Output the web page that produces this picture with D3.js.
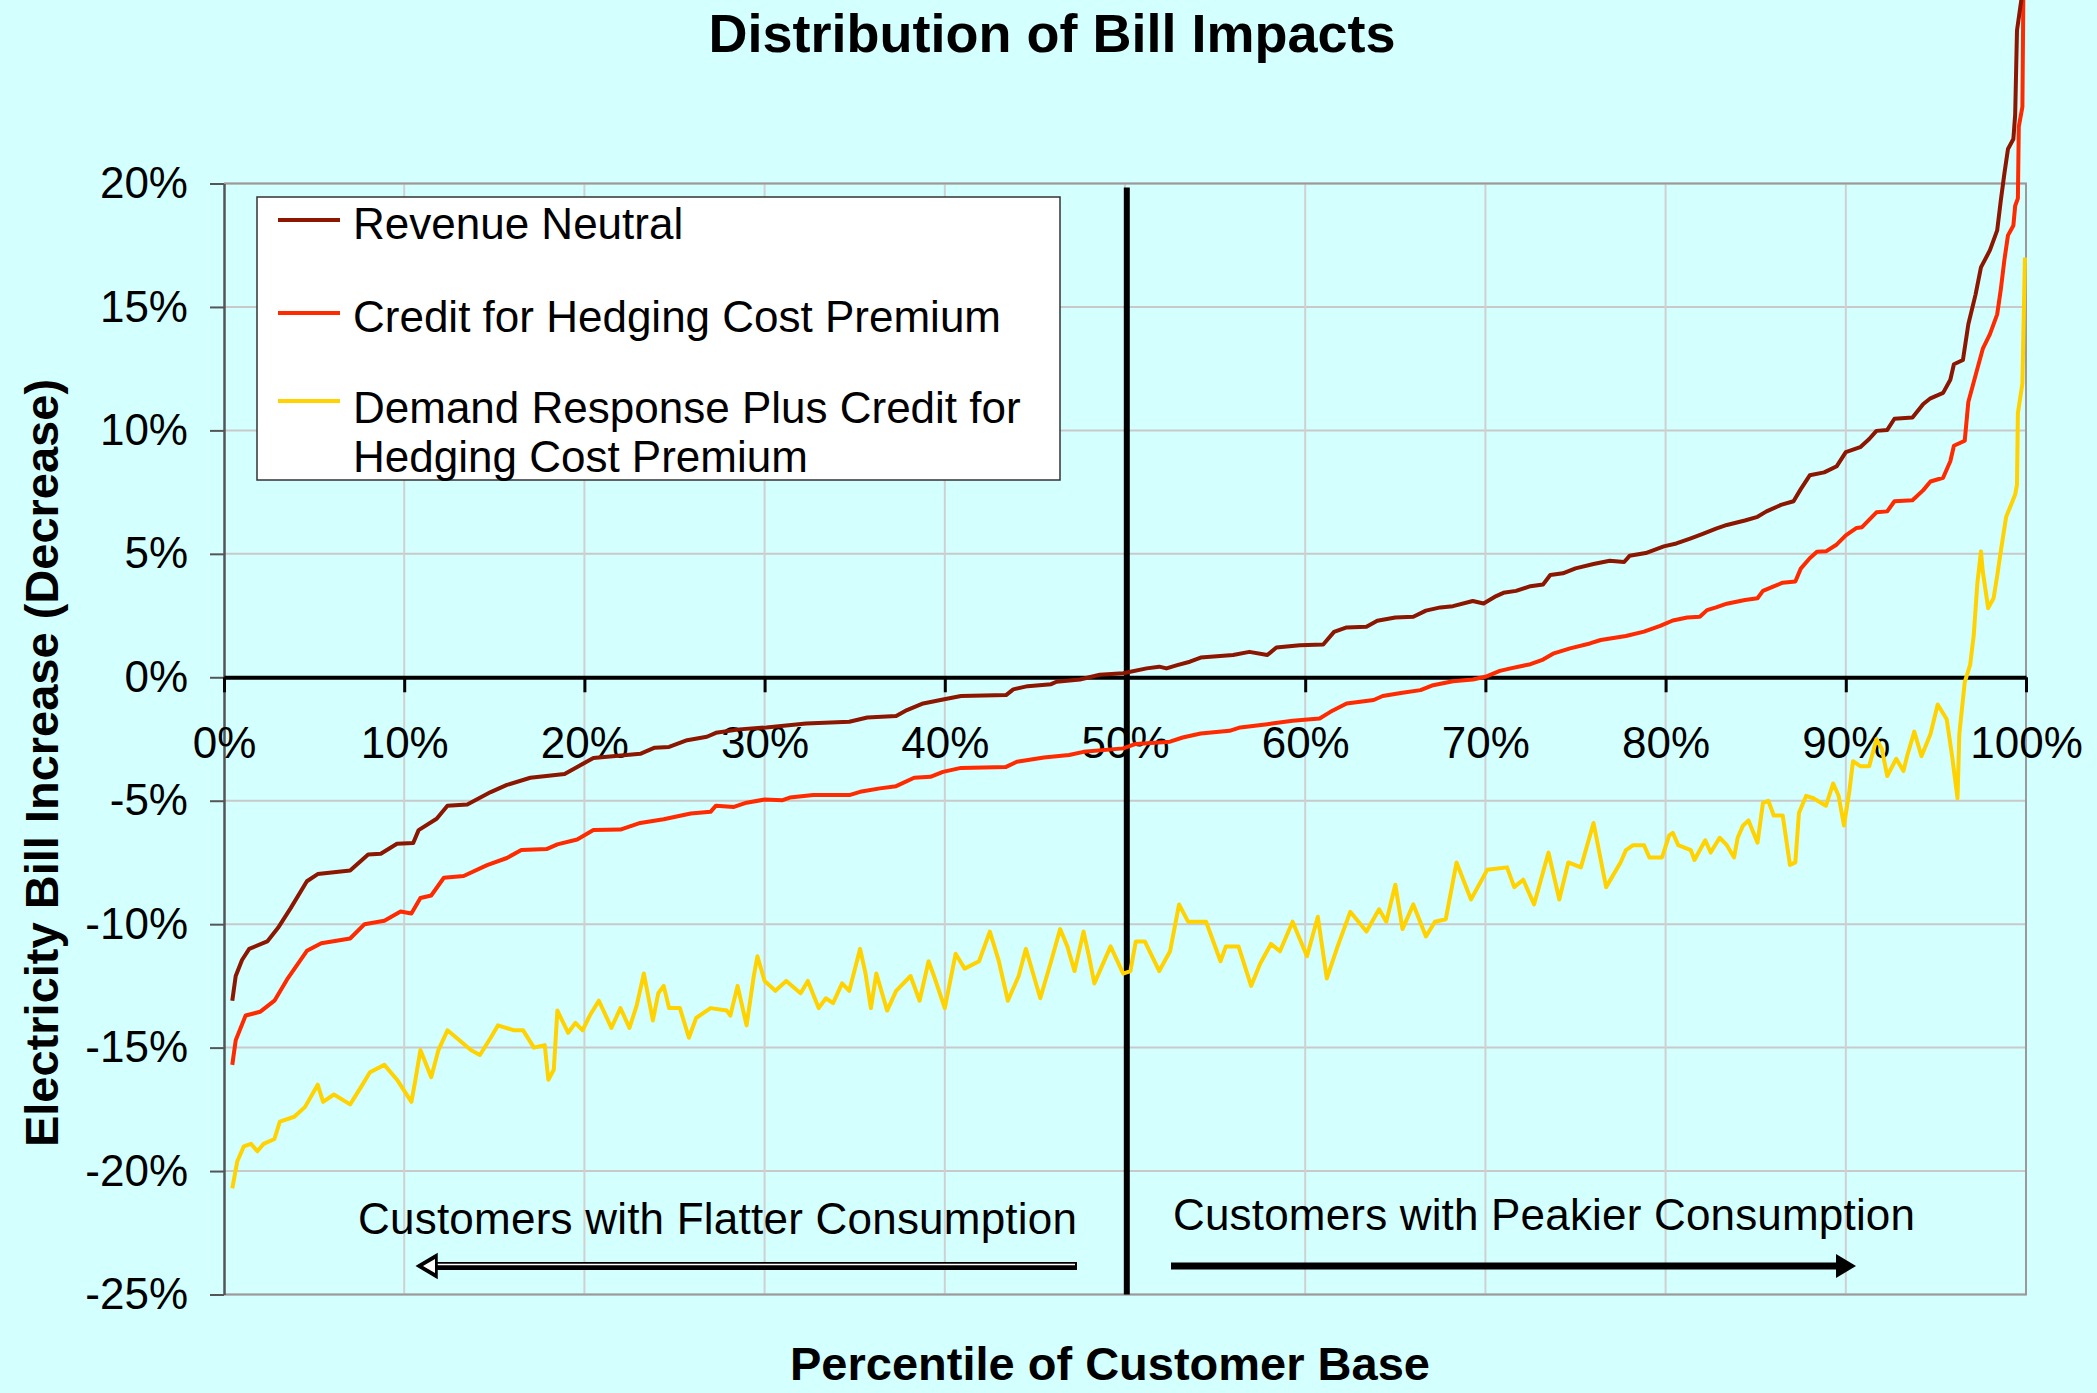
<!DOCTYPE html>
<html>
<head>
<meta charset="utf-8">
<title>Distribution of Bill Impacts</title>
<script src="https://cdnjs.cloudflare.com/ajax/libs/d3/7.8.5/d3.min.js"></script>
<style>
  body { margin: 0; background: #d4ffff; }
  svg { display: block; font-family: "Liberation Sans", Arial, sans-serif; }
</style>
</head>
<body>
<div id="chart"></div>
<script>
// ---- data (percentile of customer base, bill change in %) ----
var xTicks = [0, 10, 20, 30, 40, 50, 60, 70, 80, 90, 100];
var yTicks = [-25, -20, -15, -10, -5, 0, 5, 10, 15, 20];

var seriesNames = ["Revenue Neutral", "Credit for Hedging Cost Premium", "Demand Response Plus Credit for Hedging Cost Premium"];
var seriesColors = ["#8c1600", "#ff2a00", "#ffd200"];

var revenueNeutral = [
  [0.46,-13.1],[0.65,-12.1],[1.0,-11.45],[1.4,-11.0],[2.4,-10.7],[3.0,-10.15],[3.7,-9.35],[4.6,-8.26],[5.2,-7.97],[7.0,-7.83],
  [8.0,-7.18],[8.7,-7.15],[9.6,-6.74],[10.5,-6.71],[10.8,-6.19],[11.8,-5.73],[12.4,-5.2],[13.5,-5.15],[14.8,-4.65],[15.7,-4.36],
  [17.0,-4.07],[18.9,-3.92],[19.6,-3.63],[20.5,-3.27],[23.1,-3.1],[23.9,-2.85],[24.7,-2.82],[25.7,-2.55],[26.8,-2.41],[27.3,-2.25],
  [28.6,-2.11],[30.1,-2.03],[32.3,-1.87],[34.7,-1.8],[35.7,-1.63],[37.3,-1.57],[37.9,-1.33],[38.8,-1.06],[39.9,-0.9],[40.9,-0.76],
  [43.4,-0.72],[43.8,-0.49],[44.6,-0.36],[45.9,-0.28],[46.2,-0.18],[47.5,-0.09],[48.6,0.1],[49.9,0.16],[51.2,0.36],[51.9,0.43],
  [52.3,0.36],[52.9,0.49],[53.6,0.63],[54.2,0.8],[56.0,0.9],[56.9,1.03],[57.9,0.9],[58.4,1.21],[59.7,1.3],[61.0,1.33],
  [61.6,1.84],[62.3,2.02],[63.4,2.05],[64.0,2.29],[65.0,2.42],[66.0,2.45],[66.7,2.7],[67.5,2.83],[68.2,2.88],[69.3,3.09],
  [69.9,2.99],[70.6,3.29],[71.0,3.42],[71.7,3.5],[72.5,3.69],[73.2,3.76],[73.6,4.14],[74.3,4.21],[75.0,4.41],[76.0,4.59],
  [76.9,4.72],[77.7,4.67],[78.0,4.92],[78.9,5.03],[79.9,5.3],[80.6,5.42],[81.4,5.63],[82.1,5.82],[82.8,6.02],[83.4,6.17],
  [84.4,6.35],[85.1,6.5],[85.6,6.72],[86.4,6.98],[87.1,7.13],[87.5,7.62],[88.0,8.18],[88.8,8.3],[89.5,8.55],[90.0,9.12],
  [90.8,9.32],[91.3,9.65],[91.7,9.98],[92.3,10.02],[92.7,10.47],[93.7,10.52],[94.3,11.07],[94.7,11.3],[95.4,11.52],[95.8,12.05],
  [96.0,12.68],[96.5,12.85],[96.8,14.3],[97.2,15.5],[97.5,16.6],[98.0,17.3],[98.4,18.1],[98.6,19.3],[98.8,20.4],[99.0,21.4],
  [99.3,21.8],[99.4,22.8],[99.5,26.2],[99.85,28],[100,32]
];

var hedgingCredit = [
  [0.46,-15.7],[0.65,-14.7],[1.2,-13.7],[2.0,-13.55],[2.8,-13.1],[3.5,-12.24],[4.6,-11.08],[5.4,-10.77],[7.0,-10.58],[7.8,-10.0],
  [8.9,-9.86],[9.8,-9.49],[10.4,-9.57],[10.9,-8.94],[11.5,-8.84],[12.2,-8.12],[13.3,-8.05],[14.6,-7.61],[15.7,-7.32],[16.5,-7.0],
  [17.9,-6.96],[18.5,-6.77],[19.6,-6.57],[20.5,-6.19],[22.0,-6.17],[23.1,-5.9],[24.4,-5.75],[25.9,-5.52],[27.0,-5.45],[27.3,-5.2],
  [28.3,-5.25],[29.0,-5.08],[30.0,-4.95],[31.0,-4.98],[31.4,-4.87],[32.7,-4.77],[34.7,-4.77],[35.3,-4.64],[36.4,-4.5],[37.3,-4.41],
  [38.3,-4.07],[39.2,-4.03],[39.9,-3.83],[40.9,-3.67],[43.4,-3.63],[44.0,-3.42],[45.5,-3.25],[46.9,-3.15],[47.7,-3.02],[49.9,-2.88],
  [50.6,-2.7],[52.5,-2.61],[53.2,-2.44],[54.2,-2.28],[55.8,-2.17],[56.4,-2.03],[57.9,-1.9],[59.3,-1.76],[60.8,-1.67],[61.4,-1.4],
  [62.3,-1.06],[63.8,-0.92],[64.3,-0.76],[65.4,-0.63],[66.4,-0.52],[67.1,-0.32],[68.2,-0.16],[69.3,-0.09],[70.0,0.02],[70.8,0.26],
  [71.4,0.36],[72.5,0.53],[73.2,0.72],[73.8,0.97],[74.7,1.17],[75.8,1.37],[76.4,1.51],[77.8,1.67],[78.8,1.85],[79.7,2.08],
  [80.4,2.3],[81.2,2.42],[81.9,2.45],[82.3,2.72],[82.8,2.83],[83.4,2.98],[84.4,3.13],[85.1,3.2],[85.4,3.5],[86.0,3.68],
  [86.5,3.83],[87.2,3.88],[87.5,4.4],[88.0,4.82],[88.4,5.08],[88.9,5.1],[89.5,5.38],[90.0,5.75],[90.6,6.05],[90.9,6.08],
  [91.7,6.68],[92.3,6.72],[92.7,7.13],[93.7,7.17],[94.3,7.58],[94.7,7.93],[95.4,8.08],[95.8,8.75],[96.0,9.38],[96.6,9.58],
  [96.8,11.15],[97.3,12.5],[97.6,13.3],[98.0,13.9],[98.4,14.7],[98.6,15.7],[98.8,16.9],[99.0,17.9],[99.3,18.3],[99.4,19.1],
  [99.55,19.4],[99.6,22.3],[99.8,23.1],[99.85,27.4],[100,32]
];

var demandResponse = [
  [0.46,-20.7],[0.74,-19.6],[1.1,-19.0],[1.5,-18.9],[1.85,-19.2],[2.2,-18.9],[2.8,-18.7],[3.1,-18.0],[3.9,-17.8],[4.5,-17.4],
  [5.2,-16.5],[5.5,-17.2],[6.1,-16.9],[7.0,-17.3],[7.6,-16.6],[8.1,-16.0],[8.9,-15.7],[9.6,-16.3],[10.4,-17.2],[10.6,-16.4],
  [10.9,-15.1],[11.5,-16.2],[11.9,-15.1],[12.4,-14.3],[12.9,-14.6],[13.7,-15.1],[14.2,-15.3],[14.8,-14.6],[15.2,-14.1],[16.1,-14.3],
  [16.6,-14.3],[17.2,-15.0],[17.8,-14.9],[18.0,-16.3],[18.3,-15.9],[18.5,-13.5],[19.1,-14.4],[19.5,-14.0],[19.9,-14.3],[20.3,-13.7],
  [20.8,-13.1],[21.5,-14.2],[22.0,-13.4],[22.5,-14.2],[22.9,-13.3],[23.3,-12.0],[23.8,-13.9],[24.1,-12.8],[24.4,-12.5],[24.7,-13.4],
  [25.3,-13.4],[25.8,-14.6],[26.2,-13.8],[27.0,-13.4],[27.9,-13.5],[28.1,-13.7],[28.5,-12.5],[29.0,-14.1],[29.4,-12.1],[29.6,-11.3],
  [30.0,-12.3],[30.6,-12.7],[31.2,-12.3],[32.0,-12.8],[32.4,-12.3],[33.0,-13.4],[33.4,-13.0],[33.8,-13.2],[34.3,-12.4],[34.7,-12.7],
  [35.3,-11.0],[35.6,-12.0],[35.9,-13.4],[36.2,-12.0],[36.8,-13.5],[37.3,-12.7],[38.1,-12.1],[38.6,-13.1],[39.1,-11.5],[39.4,-12.1],
  [40.0,-13.4],[40.6,-11.2],[41.1,-11.8],[41.9,-11.5],[42.5,-10.3],[43.0,-11.5],[43.5,-13.1],[44.1,-12.1],[44.5,-11.0],[45.3,-13.0],
  [45.9,-11.5],[46.4,-10.2],[46.8,-10.9],[47.2,-11.9],[47.7,-10.3],[48.0,-11.3],[48.3,-12.4],[49.2,-10.9],[49.9,-12.0],[50.3,-11.9],
  [50.6,-10.7],[51.1,-10.7],[51.9,-11.9],[52.5,-11.1],[53.0,-9.2],[53.5,-9.9],[54.5,-9.9],[55.3,-11.5],[55.6,-10.9],[56.3,-10.9],
  [57.0,-12.5],[57.5,-11.6],[58.1,-10.8],[58.6,-11.1],[59.3,-9.9],[60.1,-11.3],[60.7,-9.7],[61.2,-12.2],[61.8,-10.9],[62.5,-9.5],
  [63.4,-10.3],[64.1,-9.4],[64.5,-9.9],[65.0,-8.4],[65.4,-10.2],[66.0,-9.2],[66.7,-10.5],[67.2,-9.9],[67.8,-9.8],[68.4,-7.5],
  [69.2,-9.0],[70.1,-7.8],[71.2,-7.7],[71.6,-8.5],[72.1,-8.2],[72.7,-9.2],[73.5,-7.1],[74.1,-9.0],[74.6,-7.5],[75.3,-7.7],
  [76.0,-5.9],[76.7,-8.5],[77.5,-7.5],[77.8,-7.0],[78.2,-6.8],[78.8,-6.8],[79.1,-7.3],[79.8,-7.3],[80.2,-6.4],[80.4,-6.3],
  [80.7,-6.8],[81.4,-7.0],[81.6,-7.4],[82.2,-6.6],[82.5,-7.1],[83.0,-6.5],[83.4,-6.8],[83.8,-7.3],[84.0,-6.5],[84.3,-6.0],
  [84.6,-5.8],[85.1,-6.7],[85.4,-5.1],[85.7,-5.0],[86.0,-5.6],[86.5,-5.6],[86.9,-7.6],[87.2,-7.5],[87.4,-5.5],[87.8,-4.8],
  [88.2,-4.9],[88.9,-5.2],[89.3,-4.3],[89.6,-4.8],[89.9,-6.0],[90.2,-4.6],[90.4,-3.4],[90.8,-3.6],[91.3,-3.6],[91.7,-2.5],
  [92.0,-2.9],[92.3,-4.0],[92.8,-3.3],[93.2,-3.8],[93.4,-3.2],[93.8,-2.2],[94.2,-3.2],[94.7,-2.3],[95.1,-1.1],[95.6,-1.7],
  [95.9,-3.2],[96.2,-4.9],[96.3,-2.3],[96.6,-0.2],[96.9,0.5],[97.1,1.7],[97.3,3.8],[97.5,5.1],[97.6,4.3],[97.9,2.8],
  [98.2,3.2],[98.4,4.1],[98.6,5.1],[98.9,6.5],[99.4,7.4],[99.5,7.8],[99.55,10.7],[99.8,11.9],[99.9,15.5],[99.94,17.0]
];

var allSeries = [revenueNeutral, hedgingCredit, demandResponse];

// ---- layout ----
var W = 2097, H = 1393;
var plot = { left: 224, right: 2026, top: 183.5, bottom: 1294.5 };
var FONT = 44;

var svg = d3.select("#chart").append("svg")
  .attr("width", W)
  .attr("height", H);

svg.append("rect").attr("width", W).attr("height", H).attr("fill", "#d4ffff");

var x = d3.scaleLinear().domain([0, 100]).range([plot.left, plot.right]);
var y = d3.scaleLinear().domain([-25, 20]).range([plot.bottom, plot.top]);

// gridlines
svg.append("g").selectAll("line").data(yTicks).enter().append("line")
  .attr("x1", plot.left).attr("x2", plot.right)
  .attr("y1", function (d) { return y(d); }).attr("y2", function (d) { return y(d); })
  .attr("stroke", "#c9c9c9").attr("stroke-width", 2);

svg.append("g").selectAll("line").data(xTicks.slice(1, -1)).enter().append("line")
  .attr("x1", function (d) { return x(d); }).attr("x2", function (d) { return x(d); })
  .attr("y1", plot.top).attr("y2", plot.bottom)
  .attr("stroke", "#d0d0d0").attr("stroke-width", 2);

// plot border (top/right/bottom)
svg.append("path")
  .attr("d", "M" + plot.left + "," + plot.top + "H" + plot.right + "V" + plot.bottom + "H" + plot.left)
  .attr("fill", "none").attr("stroke", "#9a9a9a").attr("stroke-width", 2);

// y axis
var yAxis = d3.axisLeft(y).tickValues(yTicks).tickSize(14).tickSizeOuter(0).tickPadding(22)
  .tickFormat(function (d) { return d + "%"; });
var gy = svg.append("g").attr("transform", "translate(" + plot.left + ",0)").call(yAxis);
gy.select(".domain").attr("stroke", "#555").attr("stroke-width", 2.5);
gy.selectAll(".tick line").attr("stroke", "#555").attr("stroke-width", 2);
gy.selectAll("text").attr("font-size", FONT).attr("fill", "#000").attr("font-family", "Liberation Sans, Arial, sans-serif");

// divider line at the median
svg.append("line")
  .attr("x1", x(50.1)).attr("x2", x(50.1))
  .attr("y1", plot.top + 4).attr("y2", plot.bottom)
  .attr("stroke", "#000").attr("stroke-width", 6);

// x axis sitting on the 0% line
var xAxis = d3.axisBottom(x).tickValues(xTicks).tickSize(15).tickSizeOuter(0)
  .tickFormat(function (d) { return d + "%"; });
var gx = svg.append("g").attr("transform", "translate(0," + y(0) + ")").call(xAxis);
gx.select(".domain").attr("stroke", "#000").attr("stroke-width", 4);
gx.selectAll(".tick line").attr("stroke", "#000").attr("stroke-width", 3);
gx.selectAll("text").attr("font-size", FONT).attr("fill", "#000")
  .attr("font-family", "Liberation Sans, Arial, sans-serif")
  .attr("y", 81).attr("dy", 0);

// series lines (drawn unclipped, the tail runs off the top of the picture)
var line = d3.line()
  .x(function (d) { return x(d[0]); })
  .y(function (d) { return y(d[1]); });

[2, 1, 0].forEach(function (i) {
  svg.append("path")
    .datum(allSeries[i])
    .attr("fill", "none")
    .attr("stroke", seriesColors[i])
    .attr("stroke-width", 4)
    .attr("stroke-linejoin", "round")
    .attr("d", line);
});

// legend
var legend = svg.append("g");
legend.append("rect")
  .attr("x", 257).attr("y", 197).attr("width", 803).attr("height", 283)
  .attr("fill", "#fff").attr("stroke", "#333").attr("stroke-width", 1.5);

var legendRows = [
  { lineY: 220, lines: [seriesNames[0]], base: [239] },
  { lineY: 313, lines: [seriesNames[1]], base: [332] },
  { lineY: 401, lines: ["Demand Response Plus Credit for", "Hedging Cost Premium"], base: [423, 472] }
];
legendRows.forEach(function (r, i) {
  legend.append("line")
    .attr("x1", 278).attr("x2", 340).attr("y1", r.lineY).attr("y2", r.lineY)
    .attr("stroke", seriesColors[i]).attr("stroke-width", 4);
  r.lines.forEach(function (t, j) {
    legend.append("text").attr("x", 353).attr("y", r.base[j])
      .attr("font-size", FONT).text(t);
  });
});

// annotations
svg.append("text").attr("x", 358).attr("y", 1234).attr("font-size", FONT)
  .attr("textLength", 719).text("Customers with Flatter Consumption");
svg.append("text").attr("x", 1173).attr("y", 1230).attr("font-size", FONT)
  .attr("textLength", 742).text("Customers with Peakier Consumption");

// left (outlined) arrow
var ay = 1266;
svg.append("rect").attr("x", 432).attr("y", ay - 4).attr("width", 645).attr("height", 8)
  .attr("fill", "#000");
svg.append("line").attr("x1", 434).attr("x2", 1075).attr("y1", ay - 1.5).attr("y2", ay - 1.5)
  .attr("stroke", "#fff").attr("stroke-width", 1.5);
svg.append("path")
  .attr("d", "M417," + ay + "L437," + (ay - 12) + "L437," + (ay + 12) + "Z")
  .attr("fill", "#000").attr("stroke", "#000").attr("stroke-width", 1.5);
svg.append("path")
  .attr("d", "M423," + ay + "L435," + (ay - 7) + "L435," + (ay + 7) + "Z")
  .attr("fill", "#fff");

// right (solid) arrow
svg.append("rect").attr("x", 1171).attr("y", ay - 3.5).attr("width", 668).attr("height", 7)
  .attr("fill", "#000");
svg.append("path")
  .attr("d", "M1856," + ay + "L1836," + (ay - 12) + "L1836," + (ay + 12) + "Z")
  .attr("fill", "#000");

// titles
svg.append("text").attr("x", 1052).attr("y", 52).attr("text-anchor", "middle")
  .attr("font-size", 54).attr("font-weight", "bold").text("Distribution of Bill Impacts");

svg.append("text").attr("x", 1110).attr("y", 1380).attr("text-anchor", "middle")
  .attr("font-size", 47).attr("font-weight", "bold").text("Percentile of Customer Base");

svg.append("text")
  .attr("transform", "translate(58,763) rotate(-90)")
  .attr("text-anchor", "middle")
  .attr("font-size", 47).attr("font-weight", "bold")
  .text("Electricity Bill Increase (Decrease)");
</script>
</body>
</html>
